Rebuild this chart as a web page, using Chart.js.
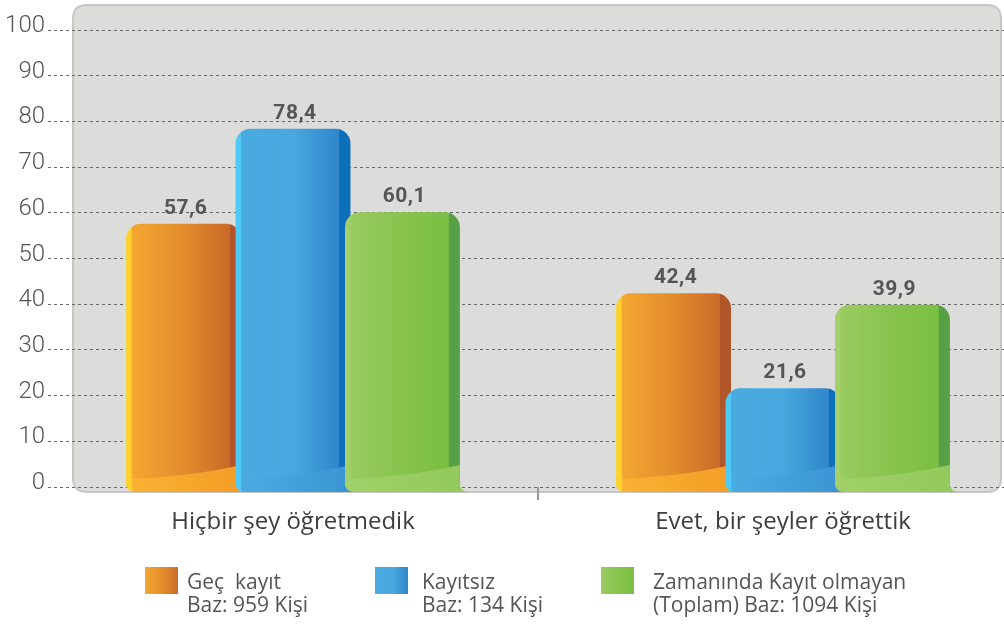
<!DOCTYPE html>
<html>
<head>
<meta charset="utf-8">
<script src="https://cdn.jsdelivr.net/npm/chart.js@4/dist/chart.umd.min.js"></script>
<style>
  html, body { margin: 0; padding: 0; background: #fff; overflow: hidden; width: 1004px; height: 624px; }
  #wrap { position: relative; width: 1030px; height: 624px; }
  #chart { position: absolute; left: 0; top: 0; }
  .item { position: absolute; top: 567px; }
  .sw { position: absolute; left: 0; top: 0; width: 33px; height: 27px; }
  .txt { position: absolute; top: 3px; white-space: pre; font-family: "Open Sans", sans-serif; font-size: 21px; line-height: 23px; color: #555; }
</style>
</head>
<body>
<div id="wrap">
  <canvas id="chart" width="1030" height="624"></canvas>
  <div id="legend"></div>
</div>
<script>
const categories = ["Hiçbir şey öğretmedik", "Evet, bir şeyler öğrettik"];
const seriesNames = ["Geç  kayıt", "Kayıtsız", "Zamanında Kayıt olmayan"];
const seriesBases = ["Baz: 959 Kişi", "Baz: 134 Kişi", "(Toplam) Baz: 1094 Kişi"];
const gecKayit = [57.6, 42.4];
const kayitsiz = [78.4, 21.6];
const zamanindaOlmayan = [60.1, 39.9];
const yMin = 0;
const yMax = 100;
const yStep = 10;

// bar colouring: left highlight strip, body gradient, dark right edge, light foot
const palettes = [
  { strip: "#fdd22b", body: ["#f4a732", "#e28c2c", "#cb6a29"], edge: "#b1552a", foot: ["#f9b233", "#f39c26"] },
  { strip: "#4fcaf5", body: ["#4aabe1", "#48a8df", "#2f86c9"], edge: "#0b70b9", foot: ["#4aabe1", "#3a93d3"] },
  { strip: "#a4d06b", body: ["#9acb61", "#87c34d", "#7abf44"], edge: "#57a045", foot: ["#a0d067", "#93c95a"] }
];
const numFont = "Roboto, sans-serif";

// legend built from the series arrays
const legendX = [145, 375, 601];
const legendTextGap = [42, 47, 52];
const legend = document.getElementById("legend");
seriesNames.forEach((name, i) => {
  const p = palettes[i];
  const item = document.createElement("div");
  item.className = "item";
  item.style.left = legendX[i] + "px";
  const sw = document.createElement("div");
  sw.className = "sw";
  sw.style.background = `linear-gradient(to right, ${p.body[0]}, ${p.body[1]} 55%, ${p.body[2]})`;
  const txt = document.createElement("div");
  txt.className = "txt";
  txt.style.left = legendTextGap[i] + "px";
  txt.textContent = name + "\n" + seriesBases[i];
  item.appendChild(sw);
  item.appendChild(txt);
  legend.appendChild(item);
});

function roundRect(ctx, x, y, w, h, r) {
  ctx.beginPath();
  ctx.moveTo(x + r, y);
  ctx.lineTo(x + w - r, y);
  ctx.quadraticCurveTo(x + w, y, x + w, y + r);
  ctx.lineTo(x + w, y + h - r);
  ctx.quadraticCurveTo(x + w, y + h, x + w - r, y + h);
  ctx.lineTo(x + r, y + h);
  ctx.quadraticCurveTo(x, y + h, x, y + h - r);
  ctx.lineTo(x, y + r);
  ctx.quadraticCurveTo(x, y, x + r, y);
  ctx.closePath();
}

const panelPlugin = {
  id: "panel",
  beforeDraw(chart) {
    const ctx = chart.ctx;
    const y = chart.scales.y;
    const top = y.getPixelForValue(yMax) - 25;
    const bottom = y.getPixelForValue(yMin) + 5;
    ctx.save();
    roundRect(ctx, 73, top, 928, bottom - top, 14);
    ctx.fillStyle = "#dcdcdb";
    ctx.fill();
    ctx.lineWidth = 2;
    ctx.strokeStyle = "#c6c6c6";
    ctx.stroke();
    ctx.restore();
  }
};

const barPlugin = {
  id: "bar3d",
  beforeDatasetsDraw(chart) {
    const ctx = chart.ctx;
    const base = chart.scales.y.getPixelForValue(0);
    const metas = chart.getSortedVisibleDatasetMetas().slice().sort((a, b) => a.index - b.index);
    metas.forEach(meta => {
      const p = palettes[meta.index];
      meta.data.forEach(el => {
        const { x, width } = el.getProps(["x", "width"], true);
        const x0 = x - width / 2, x1 = x + width / 2;
        const g = ctx.createLinearGradient(x0, 0, x1, 0);
        g.addColorStop(0, p.strip);
        g.addColorStop(0.045, p.strip);
        g.addColorStop(0.05, p.body[0]);
        g.addColorStop(0.5, p.body[1]);
        g.addColorStop(0.9, p.body[2]);
        g.addColorStop(0.905, p.edge);
        g.addColorStop(1, p.edge);
        el.options.backgroundColor = g;
        el.draw(ctx);

        // lighter curled foot of the bar
        ctx.save();
        const f = ctx.createLinearGradient(x0, 0, x1 + 8, 0);
        f.addColorStop(0, p.strip);
        f.addColorStop(0.045, p.strip);
        f.addColorStop(0.05, p.foot[0]);
        f.addColorStop(1, p.foot[1]);
        ctx.beginPath();
        ctx.moveTo(x0, base - 8);
        ctx.quadraticCurveTo(x0 + width * 0.55, base - 10, x1, base - 22);
        ctx.lineTo(x1, base - 2);
        ctx.quadraticCurveTo(x1 + 1, base + 5, x1 + 9, base + 5);
        ctx.lineTo(x0 + 10, base + 5);
        ctx.quadraticCurveTo(x0, base + 5, x0, base - 4);
        ctx.closePath();
        ctx.fillStyle = f;
        ctx.fill();
        ctx.restore();
      });
    });

    // value labels above each bar
    ctx.save();
    ctx.font = "bold 21px " + numFont;
    ctx.letterSpacing = "0.5px";
    ctx.fillStyle = "#555";
    ctx.textAlign = "center";
    ctx.textBaseline = "alphabetic";
    metas.forEach(meta => {
      const values = chart.data.datasets[meta.index].data;
      meta.data.forEach((el, i) => {
        const { x, y } = el.getProps(["x", "y"], true);
        ctx.fillText(values[i].toFixed(1).replace(".", ","), x + 2, y - 10);
      });
    });
    ctx.restore();
    return false;
  }
};

const barOptions = {
  categoryPercentage: 0.67,
  barPercentage: 1.05,
  borderWidth: 0,
  borderRadius: { topLeft: 15, topRight: 15, bottomLeft: 0, bottomRight: 0 }
};

new Chart(document.getElementById("chart"), {
  type: "bar",
  data: {
    labels: categories,
    datasets: [
      Object.assign({ label: seriesNames[0], data: gecKayit }, barOptions),
      Object.assign({ label: seriesNames[1], data: kayitsiz }, barOptions),
      Object.assign({ label: seriesNames[2], data: zamanindaOlmayan }, barOptions)
    ]
  },
  options: {
    responsive: false,
    animation: false,
    layout: { padding: { top: 30, right: 2, bottom: 0, left: 0 } },
    plugins: { legend: { display: false }, tooltip: { enabled: false } },
    scales: {
      x: {
        afterFit: (scale) => { scale.height = 137; },
        border: { display: false },
        grid: {
          offset: true,
          drawOnChartArea: false,
          drawTicks: true,
          tickLength: 13,
          lineWidth: 2,
          color: (c) => (c.index === 1 ? "#9a9a9a" : "rgba(0,0,0,0)")
        },
        ticks: {
          color: "#3d3d3d",
          padding: 8,
          font: { family: '"Open Sans", sans-serif', size: 24 }
        }
      },
      y: {
        min: yMin,
        max: yMax,
        afterFit: (scale) => { scale.width = 48; },
        border: { display: false, dash: [3, 3] },
        grid: {
          color: "#666",
          lineWidth: 1,
          drawTicks: false
        },
        ticks: {
          stepSize: yStep,
          color: "#555",
          padding: 3,
          labelOffset: -4,
          font: { family: numFont, size: 24, weight: 300 }
        }
      }
    }
  },
  plugins: [panelPlugin, barPlugin]
});
</script>
</body>
</html>
